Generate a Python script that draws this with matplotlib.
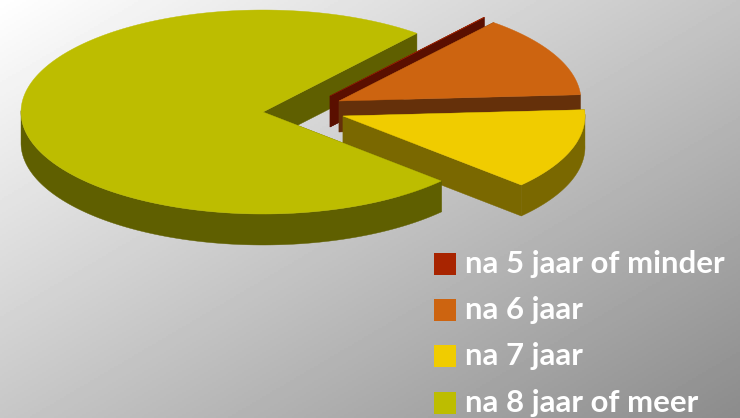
import numpy as np
import matplotlib
matplotlib.use('Agg')
import matplotlib.pyplot as plt
from matplotlib.patches import Polygon, Rectangle

labels = ['na 5 jaar of minder', 'na 6 jaar', 'na 7 jaar', 'na 8 jaar of meer']
values = [0.05, 13.0, 12.8, 74.15]

top_colors = ['#a82400', '#cd6410', '#f0cc00', '#bdbd00']
side_colors = ['#5a0f00', '#65300a', '#7a6800', '#5f5f00']
# where each slice's apex sits after exploding, in pixels
centers = [(330, 96), (339, 101), (343, 116), (263, 112)]

start_angle = 50.5
rx, ry = 242, 102
depth = 31

W, H = 740, 418
fig = plt.figure(figsize=(W / 100, H / 100), dpi=100)
ax = fig.add_axes([0, 0, 1, 1])
ax.set_xlim(0, W)
ax.set_ylim(H, 0)
ax.axis('off')

# diagonal grey background
yy, xx = np.mgrid[0:1:209j, 0:1:370j]
ax.imshow((255 - 59 * xx - 56.5 * yy) / 255, extent=(0, W, H, 0), aspect='auto',
          cmap='gray', vmin=0, vmax=1, zorder=0)


def arc(center, a0, a1):
    t = np.radians(np.linspace(a0, a1, 200))
    return np.column_stack([center[0] + rx * np.cos(t), center[1] - ry * np.sin(t)])


def band(p, color, z):
    # sweep a run of outline points straight down by the slice depth
    shape = np.vstack([p, (p + [0, depth])[::-1]])
    ax.add_patch(Polygon(shape, closed=True, fc=color, ec=color, lw=0.3, zorder=z))


# end angles running clockwise from the start angle
ends = start_angle - np.cumsum(values) * 3.6
begins = np.concatenate([[start_angle], ends[:-1]])

for i in range(4):
    c = np.array(centers[i], dtype=float)
    rim = arc(c, begins[i], ends[i])
    # the big slice's rear cut lies behind the small ones, its rim in front
    base = 10 * i + 10 if i < 3 else 50
    back = 1 if i == 3 else base
    band(np.vstack([c, rim[:1]]), side_colors[i], base)
    band(np.vstack([c, rim[-1:]]), side_colors[i], back)
    # only the front half of a rim can be seen
    front = rim[rim[:, 1] >= c[1] - 2]
    if len(front) > 1:
        band(front, side_colors[i], base + 1)
    ax.add_patch(Polygon(np.vstack([c, rim]), closed=True, fc=top_colors[i],
                         ec=top_colors[i], lw=0.3, zorder=base + 2))

# legend
for i, lab in enumerate(labels):
    y = 253 + i * 46.2
    ax.add_patch(Rectangle((434, y), 22, 22, fc=top_colors[i], ec='none', zorder=60))
    ax.text(465, y + 11, lab, color='white', fontsize=22.4, fontweight='bold',
            family='Lato', va='center', ha='left', zorder=60)

fig.savefig('out.png', dpi=100)
